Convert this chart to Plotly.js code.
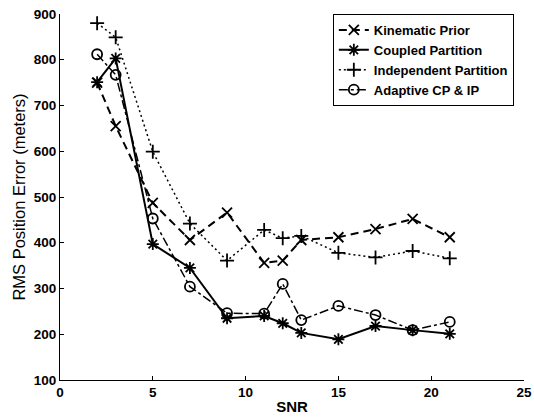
<!DOCTYPE html>
<html>
<head>
<meta charset="utf-8">
<script src="https://cdn.plot.ly/plotly-3.0.1.min.js"></script>
<style>html,body{margin:0;padding:0;background:#fff;}#chart{width:534px;height:419px;}</style>
</head>
<body>
<div id="chart"></div>
<script>
var snr = [2, 3, 5, 7, 9, 11, 12, 13, 15, 17, 19, 21];
var kinematicPrior = [750, 655, 487, 406, 466, 356, 361, 406, 412, 430, 452, 412];
var coupledPartition = [751, 803, 397, 345, 235, 240, 224, 203, 189, 218, 209, 201];
var independentPartition = [880, 849, 599, 442, 361, 428, 410, 415, 378, 368, 382, 366];
var adaptiveCPIP = [812, 767, 453, 304, 246, 245, 310, 231, 262, 242, 209, 227];
var seriesNames = ['Kinematic Prior', 'Coupled Partition', 'Independent Partition', 'Adaptive CP & IP'];
var xTicks = [0, 5, 10, 15, 20, 25];
var yTicks = [100, 200, 300, 400, 500, 600, 700, 800, 900];

var F = 'Arial, "Liberation Sans", Helvetica, sans-serif';
function tr(y, name, dash, sym, lw) {
  return {
    x: snr, y: y, name: name, type: 'scatter', mode: 'lines+markers',
    line: {color: '#000', width: lw, dash: dash},
    marker: {symbol: sym, size: 10, color: '#000', line: {color: '#000', width: 1.8}}
  };
}
var data = [
  tr(kinematicPrior, seriesNames[0], '8px,5px', 'x-thin-open', 2),
  tr(coupledPartition, seriesNames[1], 'solid', 'asterisk-open', 2),
  tr(independentPartition, seriesNames[2], '2px,3px', 'cross-thin-open', 1.5),
  tr(adaptiveCPIP, seriesNames[3], 'dashdot', 'circle-open', 1.5)
];
var layout = {
  width: 534, height: 419,
  margin: {l: 60, r: 10, t: 14, b: 39, pad: 0},
  paper_bgcolor: '#fff', plot_bgcolor: '#fff',
  font: {family: F, color: '#000', size: 13},
  showlegend: true,
  legend: {
    x: 0.588, y: 1.0, xanchor: 'left', yanchor: 'top',
    bgcolor: '#fff', bordercolor: '#000', borderwidth: 1,
    font: {family: F, size: 13, color: '#000', weight: 'bold'},
    itemwidth: 30, tracegroupgap: 0
  },
  xaxis: {
    range: [0, 25], tickvals: xTicks, ticktext: xTicks.map(String),
    ticks: 'inside', ticklen: 4, tickcolor: '#000', showline: true, linecolor: '#000', linewidth: 1,
    mirror: false, showgrid: false, zeroline: false,
    tickfont: {family: F, size: 13.5, weight: 'bold'},
    title: {text: 'SNR', font: {family: F, size: 15, weight: 'bold'}, standoff: 2}
  },
  yaxis: {
    range: [100, 900], tickvals: yTicks, ticktext: yTicks.map(String),
    ticks: 'inside', ticklen: 4, tickcolor: '#000', showline: true, linecolor: '#000', linewidth: 1,
    mirror: false, showgrid: false, zeroline: false,
    tickfont: {family: F, size: 13.5, weight: 'bold'},
    title: {text: 'RMS Position Error (meters)', font: {family: F, size: 16.5}, standoff: 3}
  }
};
Plotly.newPlot('chart', data, layout, {displayModeBar: false, staticPlot: true});
</script>
</body>
</html>
